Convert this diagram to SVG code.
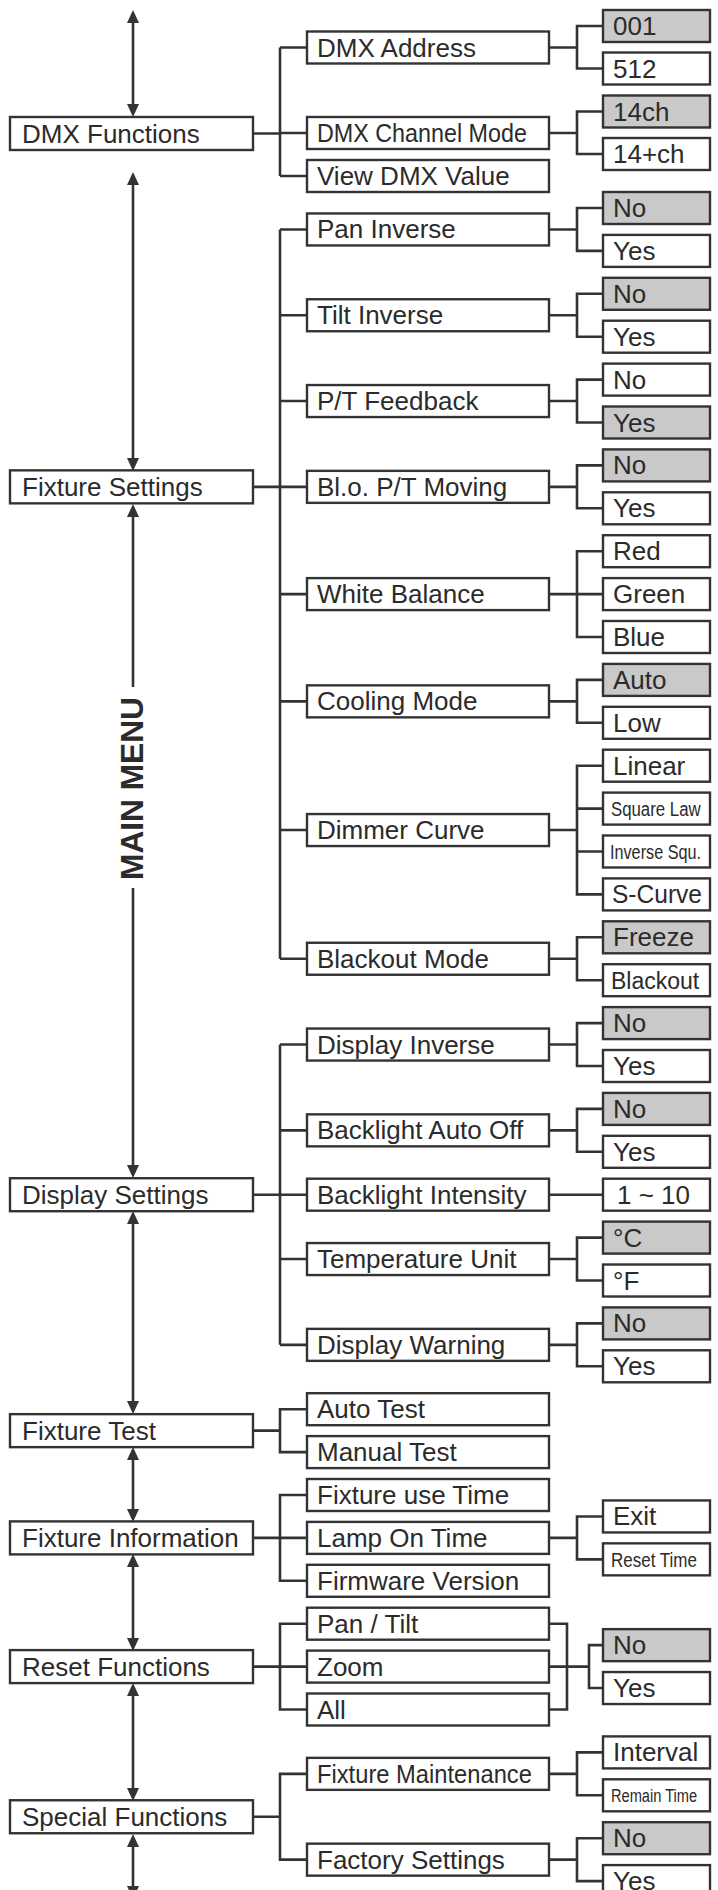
<svg xmlns="http://www.w3.org/2000/svg" width="718" height="1890" viewBox="0 0 718 1890">
<style>
rect{stroke:#333;stroke-width:2.4;fill:#fff}
rect.h{fill:#c9c9c9}
text{font-family:"Liberation Sans",Arial,sans-serif;font-size:26px;fill:#2b2b2b}
.c path{fill:none;stroke:#333;stroke-width:2.6}
.c path.a{marker-start:url(#ah);marker-end:url(#ah)}
.c path.e{marker-end:url(#ah)}
.c path.s{marker-start:url(#ah)}
.mm{font-weight:bold;font-size:32px}
</style>
<defs>
<marker id="ah" markerUnits="userSpaceOnUse" viewBox="0 0 13 12" markerWidth="13" markerHeight="12" refX="7" refY="6" orient="auto-start-reverse">
<path d="M0,0 L13,6 L0,12 z" fill="#333"/>
</marker>
</defs>
<g class="c" id="connectors">
<path class="a" d="M133 16 V111"/>
<path class="a" d="M133 178 V465"/>
<path class="s" d="M133 510 V687"/>
<path class="e" d="M133 888 V1172"/>
<path class="a" d="M133 1217 V1408"/>
<path class="a" d="M133 1453 V1516"/>
<path class="a" d="M133 1560 V1645"/>
<path class="a" d="M133 1689 V1795"/>
<path class="a" d="M133 1840 V1893"/>
<path d="M253 133.5 H280 M280 47.5 V176 M280 47.5 H307 M280 133 H307 M280 176 H307"/>
<path d="M549 47.5 H577 M603 26 H577 V68.5 H603"/>
<path d="M549 133 H577 M603 111.5 H577 V154 H603"/>
<path d="M253 486.85 H280 M280 229.45 V958.75 M280 229.45 H307 M280 315.25 H307 M280 401.05 H307 M280 486.85 H307 M280 594.1 H307 M280 701.35 H307 M280 830.05 H307 M280 958.75 H307"/>
<path d="M549 229.45 H577 M603 208 H577 V250.9 H603"/>
<path d="M549 315.25 H577 M603 293.8 H577 V336.7 H603"/>
<path d="M549 401.05 H577 M603 379.6 H577 V422.5 H603"/>
<path d="M549 486.85 H577 M603 465.4 H577 V508.3 H603"/>
<path d="M549 594.1 H603 M603 551.2 H577 V637 H603"/>
<path d="M549 701.35 H577 M603 679.9 H577 V722.8 H603"/>
<path d="M549 830.05 H577 M603 765.7 H577 V894.4 H603 M577 808.6 H603 M577 851.5 H603"/>
<path d="M549 958.75 H577 M603 937.3 H577 V980.2 H603"/>
<path d="M253 1194.7 H307 M280 1044.55 V1344.85 M280 1044.55 H307 M280 1130.35 H307 M280 1259.05 H307 M280 1344.85 H307"/>
<path d="M549 1044.55 H577 M603 1023.1 H577 V1066 H603"/>
<path d="M549 1130.35 H577 M603 1108.9 H577 V1151.8 H603"/>
<path d="M549 1194.7 H603"/>
<path d="M549 1259.05 H577 M603 1237.6 H577 V1280.5 H603"/>
<path d="M549 1344.85 H577 M603 1323.4 H577 V1366.3 H603"/>
<path d="M253 1430.65 H280 M307 1409.2 H280 V1452.1 H307"/>
<path d="M253 1537.9 H307 M307 1495 H280 V1580.8 H307"/>
<path d="M549 1537.9 H577 M603 1516.45 H577 V1559.35 H603"/>
<path d="M253 1666.6 H307 M307 1623.7 H280 V1709.5 H307"/>
<path d="M549 1623.7 H567 V1709.5 H549 M549 1666.6 H589 M603 1645.15 H589 V1688.05 H603"/>
<path d="M253 1816.75 H280 M307 1773.85 H280 V1859.65 H307"/>
<path d="M549 1773.85 H577 M603 1752.4 H577 V1795.3 H603"/>
<path d="M549 1859.65 H577 M603 1838.2 H577 V1881.1 H603"/>
</g>
<text class="mm" transform="translate(143,788.5) rotate(-90)" text-anchor="middle" textLength="183" lengthAdjust="spacingAndGlyphs">MAIN MENU</text>
<g id="dmx-functions"><rect x="10" y="117" width="243" height="33"/><text x="22" y="142.5">DMX Functions</text></g>
<g id="dmx-address"><rect x="307" y="31.5" width="242" height="32"/><text x="317" y="56.5">DMX Address</text></g>
<g id="dmx-channel-mode"><rect x="307" y="117" width="242" height="32"/><text transform="translate(317,142) scale(0.897,1)">DMX Channel Mode</text></g>
<g id="view-dmx-value"><rect x="307" y="160" width="242" height="32"/><text x="317" y="185">View DMX Value</text></g>
<g id="addr-001"><rect class="h" x="603" y="10" width="107" height="32"/><text x="613" y="35">001</text></g>
<g id="addr-512"><rect x="603" y="52.5" width="107" height="32"/><text x="613" y="77.5">512</text></g>
<g id="mode-14ch"><rect class="h" x="603" y="95.5" width="107" height="32"/><text x="613" y="120.5">14ch</text></g>
<g id="mode-14plus"><rect x="603" y="138" width="107" height="32"/><text x="613" y="163">14+ch</text></g>
<g id="fixture-settings"><rect x="10" y="470.35" width="243" height="33"/><text x="22" y="495.85">Fixture Settings</text></g>
<g id="pan-inverse"><rect x="307" y="213.45" width="242" height="32"/><text x="317" y="238.45">Pan Inverse</text></g>
<g id="tilt-inverse"><rect x="307" y="299.25" width="242" height="32"/><text x="317" y="324.25">Tilt Inverse</text></g>
<g id="pt-feedback"><rect x="307" y="385.05" width="242" height="32"/><text x="317" y="410.05">P/T Feedback</text></g>
<g id="blo-pt-moving"><rect x="307" y="470.85" width="242" height="32"/><text x="317" y="495.85">Bl.o. P/T Moving</text></g>
<g id="white-balance"><rect x="307" y="578.1" width="242" height="32"/><text x="317" y="603.1">White Balance</text></g>
<g id="cooling-mode"><rect x="307" y="685.35" width="242" height="32"/><text x="317" y="710.35">Cooling Mode</text></g>
<g id="dimmer-curve"><rect x="307" y="814.05" width="242" height="32"/><text x="317" y="839.05">Dimmer Curve</text></g>
<g id="blackout-mode"><rect x="307" y="942.75" width="242" height="32"/><text x="317" y="967.75">Blackout Mode</text></g>
<g id="pan-no"><rect class="h" x="603" y="192" width="107" height="32"/><text x="613" y="217">No</text></g>
<g id="pan-yes"><rect x="603" y="234.9" width="107" height="32"/><text x="613" y="259.9">Yes</text></g>
<g id="tilt-no"><rect class="h" x="603" y="277.8" width="107" height="32"/><text x="613" y="302.8">No</text></g>
<g id="tilt-yes"><rect x="603" y="320.7" width="107" height="32"/><text x="613" y="345.7">Yes</text></g>
<g id="ptf-no"><rect x="603" y="363.6" width="107" height="32"/><text x="613" y="388.6">No</text></g>
<g id="ptf-yes"><rect class="h" x="603" y="406.5" width="107" height="32"/><text x="613" y="431.5">Yes</text></g>
<g id="blo-no"><rect class="h" x="603" y="449.4" width="107" height="32"/><text x="613" y="474.4">No</text></g>
<g id="blo-yes"><rect x="603" y="492.3" width="107" height="32"/><text x="613" y="517.3">Yes</text></g>
<g id="wb-red"><rect x="603" y="535.2" width="107" height="32"/><text x="613" y="560.2">Red</text></g>
<g id="wb-green"><rect x="603" y="578.1" width="107" height="32"/><text x="613" y="603.1">Green</text></g>
<g id="wb-blue"><rect x="603" y="621" width="107" height="32"/><text x="613" y="646">Blue</text></g>
<g id="cool-auto"><rect class="h" x="603" y="663.9" width="107" height="32"/><text x="613" y="688.9">Auto</text></g>
<g id="cool-low"><rect x="603" y="706.8" width="107" height="32"/><text x="613" y="731.8">Low</text></g>
<g id="dim-linear"><rect x="603" y="749.7" width="107" height="32"/><text x="613" y="774.7">Linear</text></g>
<g id="dim-square"><rect x="603" y="792.6" width="107" height="32"/><text transform="translate(611,816.2) scale(0.8,1)" style="font-size:21px">Square Law</text></g>
<g id="dim-inverse"><rect x="603" y="835.5" width="107" height="32"/><text transform="translate(610,859.1) scale(0.772,1)" style="font-size:21px">Inverse Squ.</text></g>
<g id="dim-scurve"><rect x="603" y="878.4" width="107" height="32"/><text transform="translate(612,903.4) scale(0.944,1)">S-Curve</text></g>
<g id="bo-freeze"><rect class="h" x="603" y="921.3" width="107" height="32"/><text x="613" y="946.3">Freeze</text></g>
<g id="bo-blackout"><rect x="603" y="964.2" width="107" height="32"/><text x="611" y="988.6" style="font-size:23px">Blackout</text></g>
<g id="display-settings"><rect x="10" y="1178.2" width="243" height="33"/><text x="22" y="1203.7">Display Settings</text></g>
<g id="display-inverse"><rect x="307" y="1028.55" width="242" height="32"/><text x="317" y="1053.55">Display Inverse</text></g>
<g id="backlight-auto-off"><rect x="307" y="1114.35" width="242" height="32"/><text x="317" y="1139.35">Backlight Auto Off</text></g>
<g id="backlight-intensity"><rect x="307" y="1178.7" width="242" height="32"/><text x="317" y="1203.7">Backlight Intensity</text></g>
<g id="temperature-unit"><rect x="307" y="1243.05" width="242" height="32"/><text x="317" y="1268.05">Temperature Unit</text></g>
<g id="display-warning"><rect x="307" y="1328.85" width="242" height="32"/><text x="317" y="1353.85">Display Warning</text></g>
<g id="di-no"><rect class="h" x="603" y="1007.1" width="107" height="32"/><text x="613" y="1032.1">No</text></g>
<g id="di-yes"><rect x="603" y="1050" width="107" height="32"/><text x="613" y="1075">Yes</text></g>
<g id="bl-no"><rect class="h" x="603" y="1092.9" width="107" height="32"/><text x="613" y="1117.9">No</text></g>
<g id="bl-yes"><rect x="603" y="1135.8" width="107" height="32"/><text x="613" y="1160.8">Yes</text></g>
<g id="bi-range"><rect x="603" y="1178.7" width="107" height="32"/><text x="617" y="1203.7">1 ~ 10</text></g>
<g id="tu-c"><rect class="h" x="603" y="1221.6" width="107" height="32"/><text x="613" y="1246.6">°C</text></g>
<g id="tu-f"><rect x="603" y="1264.5" width="107" height="32"/><text x="613" y="1289.5">°F</text></g>
<g id="dw-no"><rect class="h" x="603" y="1307.4" width="107" height="32"/><text x="613" y="1332.4">No</text></g>
<g id="dw-yes"><rect x="603" y="1350.3" width="107" height="32"/><text x="613" y="1375.3">Yes</text></g>
<g id="fixture-test"><rect x="10" y="1414.15" width="243" height="33"/><text x="22" y="1439.65">Fixture Test</text></g>
<g id="auto-test"><rect x="307" y="1393.2" width="242" height="32"/><text x="317" y="1418.2">Auto Test</text></g>
<g id="manual-test"><rect x="307" y="1436.1" width="242" height="32"/><text x="317" y="1461.1">Manual Test</text></g>
<g id="fixture-information"><rect x="10" y="1521.4" width="243" height="33"/><text x="22" y="1546.9">Fixture Information</text></g>
<g id="fixture-use-time"><rect x="307" y="1479" width="242" height="32"/><text x="317" y="1504">Fixture use Time</text></g>
<g id="lamp-on-time"><rect x="307" y="1521.9" width="242" height="32"/><text x="317" y="1546.9">Lamp On Time</text></g>
<g id="firmware-version"><rect x="307" y="1564.8" width="242" height="32"/><text x="317" y="1589.8">Firmware Version</text></g>
<g id="lamp-exit"><rect x="603" y="1500.45" width="107" height="32"/><text x="613" y="1525.45">Exit</text></g>
<g id="lamp-reset"><rect x="603" y="1543.35" width="107" height="32"/><text transform="translate(611,1566.5) scale(0.851,1)" style="font-size:20px">Reset Time</text></g>
<g id="reset-functions"><rect x="10" y="1650.1" width="243" height="33"/><text x="22" y="1675.6">Reset Functions</text></g>
<g id="reset-pan-tilt"><rect x="307" y="1607.7" width="242" height="32"/><text x="317" y="1632.7">Pan / Tilt</text></g>
<g id="reset-zoom"><rect x="307" y="1650.6" width="242" height="32"/><text x="317" y="1675.6">Zoom</text></g>
<g id="reset-all"><rect x="307" y="1693.5" width="242" height="32"/><text x="317" y="1718.5">All</text></g>
<g id="reset-no"><rect class="h" x="603" y="1629.15" width="107" height="32"/><text x="613" y="1654.15">No</text></g>
<g id="reset-yes"><rect x="603" y="1672.05" width="107" height="32"/><text x="613" y="1697.05">Yes</text></g>
<g id="special-functions"><rect x="10" y="1800.25" width="243" height="33"/><text x="22" y="1825.75">Special Functions</text></g>
<g id="fixture-maintenance"><rect x="307" y="1757.85" width="242" height="32"/><text transform="translate(317,1782.85) scale(0.913,1)">Fixture Maintenance</text></g>
<g id="factory-settings"><rect x="307" y="1843.65" width="242" height="32"/><text x="317" y="1868.65">Factory Settings</text></g>
<g id="fm-interval"><rect x="603" y="1736.4" width="107" height="32"/><text x="613" y="1761.4">Interval</text></g>
<g id="fm-remain"><rect x="603" y="1779.3" width="107" height="32"/><text transform="translate(611,1801.8) scale(0.77,1)" style="font-size:19px">Remain Time</text></g>
<g id="fs-no"><rect class="h" x="603" y="1822.2" width="107" height="32"/><text x="613" y="1847.2">No</text></g>
<g id="fs-yes"><rect x="603" y="1865.1" width="107" height="32"/><text x="613" y="1890.1">Yes</text></g>
</svg>
